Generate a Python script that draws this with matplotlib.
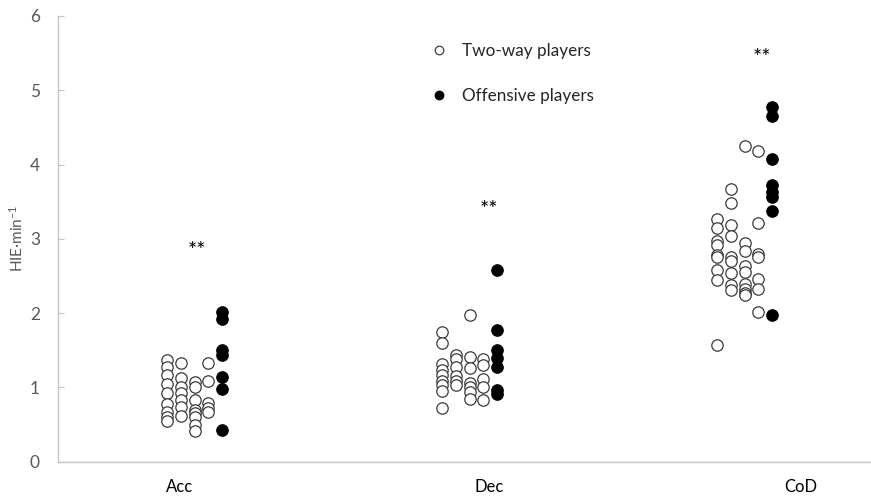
import matplotlib
matplotlib.use("Agg")
import matplotlib.pyplot as plt

plt.rcParams['font.family'] = ['Lato', 'DejaVu Sans']
plt.rcParams['mathtext.fontset'] = 'custom'
plt.rcParams['mathtext.rm'] = 'Lato'
plt.rcParams['mathtext.it'] = 'Lato:italic'

# Categories and their label positions on the x scale
categories = ["Acc", "Dec", "CoD"]
category_base = [1.0, 2.0, 3.0]
label_x = [1.047, 2.173, 3.305]
column_step = 0.05

# High-intensity efforts per minute, two-way players (one list per jitter column)
acc_twoway = [
    [1.37, 1.27, 1.17, 1.04, 0.92, 0.78, 0.67, 0.60, 0.55],
    [1.33, 1.13, 1.00, 0.93, 0.83, 0.73, 0.62],
    [1.07, 1.01, 0.83, 0.70, 0.65, 0.60, 0.50, 0.42],
    [1.33, 1.08, 0.79, 0.72, 0.67],
]
dec_twoway = [
    [1.74, 1.60, 1.32, 1.24, 1.17, 1.08, 1.03, 0.95, 0.72],
    [1.44, 1.38, 1.27, 1.15, 1.09, 1.03],
    [1.98, 1.41, 1.26, 1.06, 1.00, 0.94, 0.84],
    [1.38, 1.30, 1.12, 1.01, 0.83],
]
cod_twoway = [
    [3.27, 3.14, 2.97, 2.92, 2.78, 2.75, 2.58, 2.45, 1.57],
    [3.67, 3.48, 3.19, 3.04, 2.76, 2.70, 2.54, 2.38, 2.31],
    [4.25, 2.94, 2.83, 2.63, 2.56, 2.39, 2.33, 2.27, 2.24],
    [4.18, 3.22, 2.80, 2.76, 2.46, 2.32, 2.01],
]

# Offensive players
acc_offensive = [2.01, 1.92, 1.51, 1.43, 1.14, 0.98, 0.43]
dec_offensive = [2.58, 1.77, 1.51, 1.40, 1.28, 0.96, 0.91]
cod_offensive = [4.77, 4.65, 4.08, 3.72, 3.63, 3.56, 3.37, 1.98]

# Significance markers (x, y)
sig_x = [1.109, 2.17, 3.164]
sig_y = [2.84, 3.39, 5.44]

twoway = [acc_twoway, dec_twoway, cod_twoway]
offensive = [acc_offensive, dec_offensive, cod_offensive]

fig = plt.figure(figsize=(8.71, 4.99), dpi=100)
ax = fig.add_axes([58 / 871, 1 - 461.7 / 499, 1 - 58 / 871, (461.7 - 16) / 499])

grey = '#595959'
edge = '#3a3a3a'
ms = 8.2

for gi, base in enumerate(category_base):
    for ci, col in enumerate(twoway[gi]):
        ax.plot([base + ci * column_step] * len(col), col, 'o', ms=ms,
                mfc='white', mec=edge, mew=0.9, ls='none',
                label='Two-way players' if gi == 0 and ci == 0 else None)
    off = offensive[gi]
    ax.plot([base + 4 * column_step] * len(off), off, 'o', ms=ms,
            mfc='black', mec='black', mew=0.9, ls='none',
            label='Offensive players' if gi == 0 else None)

for x, y in zip(sig_x, sig_y):
    ax.text(x, y, '**', ha='center', va='center', fontsize=15.5, color='black')

ax.set_xlim(1 - 109 / 275, 1 + (871 - 167) / 275)
ax.set_ylim(0, 6)
ax.set_yticks(range(0, 7))
ax.set_xticks([])
for x, name in zip(label_x, categories):
    ax.text(x, -0.34, name, ha='center', va='center', fontsize=12, color='black')

for s in ['top', 'right']:
    ax.spines[s].set_visible(False)
for s in ['left', 'bottom']:
    ax.spines[s].set_color('#c4c4c4')
    ax.spines[s].set_linewidth(1.0)

ax.tick_params(axis='y', direction='in', length=4, width=0.8, color='#c4c4c4',
               labelcolor=grey, labelsize=12.5, pad=13)
ax.set_ylabel('HIE·min$^{-1}$', color=grey, fontsize=11, labelpad=3)

leg = ax.legend(loc='upper left', bbox_to_anchor=(433 / 871, 1 - 43 / 499),
                bbox_transform=fig.transFigure, frameon=False, fontsize=12.3,
                markerscale=0.75, handlelength=0.7, handletextpad=1.0,
                labelspacing=1.72, borderpad=0, borderaxespad=0)
for t in leg.get_texts():
    t.set_color('#262626')

fig.savefig('out.png', dpi=100)
